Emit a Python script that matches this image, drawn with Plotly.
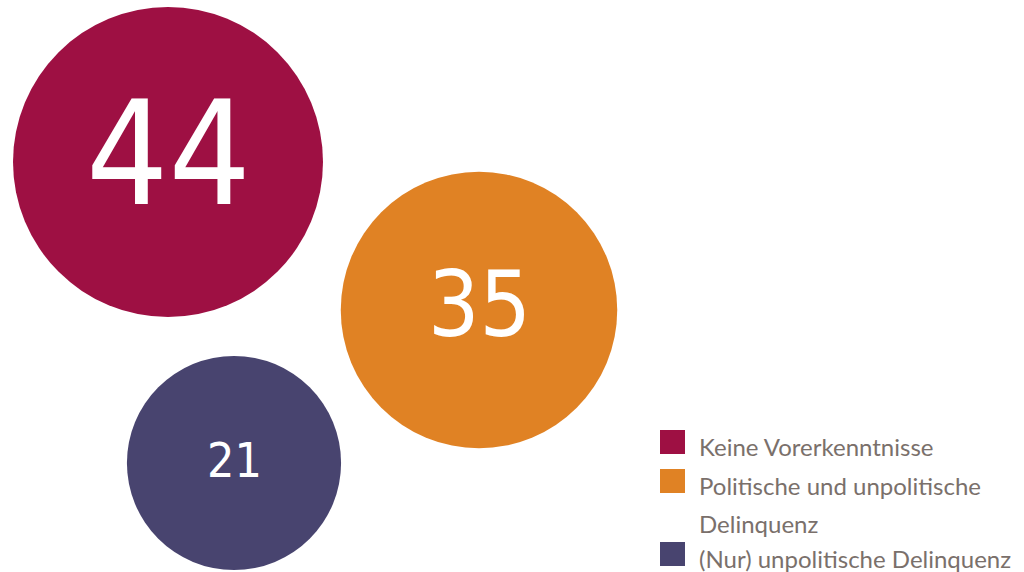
import plotly.graph_objects as go

# data
categories = ["Keine Vorerkenntnisse", "Politische und unpolitische<br>Delinquenz", "(Nur) unpolitische Delinquenz"]
values = [44, 35, 21]
colors = ["#9E1043", "#E08224", "#48446F"]

# bubble centres in pixel space (layout)
pos_x = [168, 479, 234]
pos_y = [162, 310, 463]
label_dy = [-8, -6, -3]
label_sizes = [144, 90, 48]

W, H = 1024, 572
max_diam = 310
sizeref = 2.0 * max(values) / max_diam ** 2

fig = go.Figure()
fig.add_trace(go.Scatter(
    x=pos_x, y=pos_y, mode="markers",
    marker=dict(size=values, sizemode="area", sizeref=sizeref, color=colors, opacity=1,
                line=dict(width=0)),
    hoverinfo="skip", showlegend=False, cliponaxis=False,
))

# numbers inside the bubbles
for x, y, dy, v, s in zip(pos_x, pos_y, label_dy, values, label_sizes):
    fig.add_annotation(x=x, y=y + dy, text=str(v), showarrow=False, xanchor="center", yanchor="middle",
                       font=dict(family="Liberation Sans Narrow, DejaVu Sans Condensed, Lato",
                                 size=s, color="white"))

# legend built by hand
leg_y = [442, 481, 554]
line_gap = 38
for cat, col, y in zip(categories, colors, leg_y):
    fig.add_shape(type="rect", x0=660, x1=685, y0=y - 12, y1=y + 12, fillcolor=col, line_width=0)
    for i, line in enumerate(cat.split("<br>")):
        fig.add_annotation(x=697, y=y + 4 + i * line_gap, text=line, showarrow=False,
                           xanchor="left", yanchor="middle", align="left",
                           font=dict(family="Lato", size=24, color="#7A706B"))

fig.update_layout(
    width=W, height=H, margin=dict(l=0, r=0, t=0, b=0),
    paper_bgcolor="white", plot_bgcolor="white",
    xaxis=dict(range=[0, W], visible=False, fixedrange=True),
    yaxis=dict(range=[H, 0], visible=False, fixedrange=True),
)
fig.write_html("out.html", config={"displayModeBar": False},
               post_script="document.body.style.margin='0';document.body.style.overflow='hidden';")
